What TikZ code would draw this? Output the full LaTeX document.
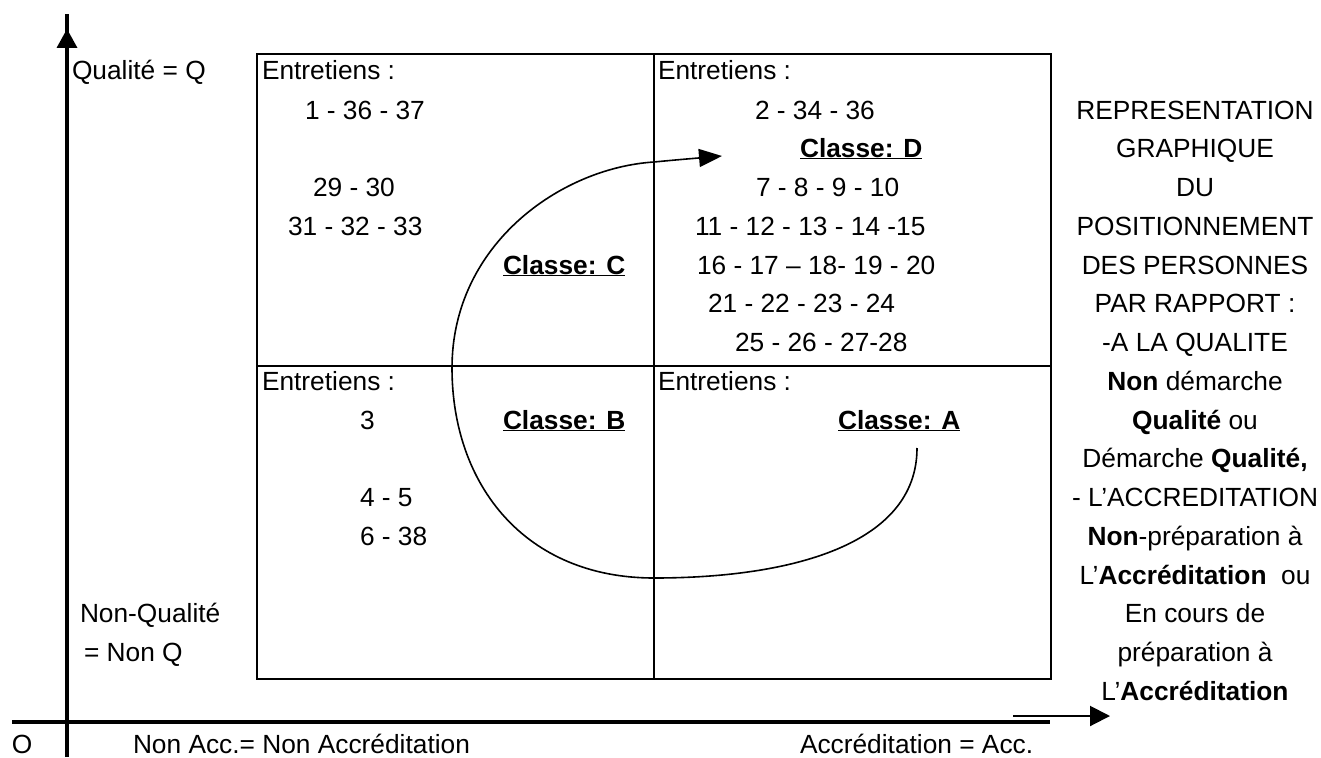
\documentclass[tikz,border=0pt]{standalone}
\usepackage{fontspec}
\setmainfont{Liberation Sans}
\usetikzlibrary{arrows.meta}
\begin{document}
\begin{tikzpicture}[x=1pt,y=-1pt,
  txt/.style={inner sep=0pt, outer sep=0pt, anchor=base west, font=\fontsize{26.3}{38.75}\selectfont},
  ctxt/.style={txt, anchor=base},
  cls/.style={txt, font=\fontsize{26.3}{38.75}\selectfont\bfseries},
  gridline/.style={line width=2pt},
  axisline/.style={line width=4.5pt},
  thinarrow/.style={line width=2pt, -{Triangle[length=20pt,width=20pt]}},
  curvearrow/.style={line width=1.6pt, -{Triangle[length=23pt,width=18pt]}}
  ]
\useasboundingbox (0,0) rectangle (1321,757);
% rows baselines: 80 + 38.75 k
% axes
\coordinate (ytop) at (67,14);
\coordinate (ybot) at (67,757);
\coordinate (xleft) at (12,722);
\coordinate (xright) at (1050,722);
\draw[axisline] (ybot) -- (ytop);
\fill (67,29) -- (56.5,48) -- (77.5,48) -- cycle;
\draw[axisline] (xleft) -- (xright);
\coordinate (ta1) at (1013,716);
\coordinate (ta2) at (1110,716);
\draw[thinarrow] (ta1) -- (ta2);
% box
\coordinate (bl) at (257,679);
\coordinate (tr) at (1051,54);
\draw[gridline] (bl) rectangle (tr);
\coordinate (vt) at (654,54);
\coordinate (vb) at (654,679);
\coordinate (hl) at (257,366);
\coordinate (hr) at (1051,366);
\draw[gridline] (vt) -- (vb);
\draw[gridline] (hl) -- (hr);
% left labels
\node[txt] (q) at (72,80) {Qualité = Q};
\node[txt] (nq1) at (80,622) {Non-Qualité};
\node[txt] (nq2) at (84,661) {= Non Q};
\node[txt] (o) at (12,753) {O};
\node[txt] (nacc) at (133,753) {Non Acc.= Non Accréditation};
\node[txt] (acc) at (800,753) {Accréditation = Acc.};
% top-left quadrant
\node[txt] (e1) at (262,80) {Entretiens :};
\node[txt] (c1) at (305,119) {1 - 36 - 37};
\node[txt] (c2) at (313,196) {29 - 30};
\node[txt] (c3) at (288,235) {31 - 32 - 33};
\node[cls] (cC) at (503,274) {\underline{Classe: C}};
% top-right quadrant
\node[txt] (e2) at (658,80) {Entretiens :};
\node[txt] (d1) at (755,119) {2 - 34 - 36};
\node[cls] (cD) at (800,157) {\underline{Classe: D}};
\node[txt] (d2) at (756,196) {7 - 8 - 9 - 10};
\node[txt] (d3) at (695,235) {11 - 12 - 13 - 14 -15};
\node[txt] (d4) at (697,274) {16 - 17 – 18- 19 - 20};
\node[txt] (d5) at (708,312) {21 - 22 - 23 - 24};
\node[txt] (d6) at (735,351) {25 - 26 - 27-28};
% bottom-left quadrant
\node[txt] (e3) at (262,390) {Entretiens :};
\node[txt] (b1) at (360,429) {3};
\node[cls] (cB) at (503,429) {\underline{Classe: B}};
\node[txt] (b2) at (360,506) {4 - 5};
\node[txt] (b3) at (360,545) {6 - 38};
% bottom-right quadrant
\node[txt] (e4) at (658,390) {Entretiens :};
\node[cls] (cA) at (838,429) {\underline{Classe: A}};
% right column
\node[ctxt] (r1) at (1195,119) {REPRESENTATION};
\node[ctxt] (r2) at (1195,157) {GRAPHIQUE};
\node[ctxt] (r3) at (1195,196) {DU};
\node[ctxt] (r4) at (1195,235) {POSITIONNEMENT};
\node[ctxt] (r5) at (1195,274) {DES PERSONNES};
\node[ctxt] (r6) at (1195,312) {PAR RAPPORT :};
\node[ctxt] (r7) at (1195,351) {-A LA QUALITE};
\node[ctxt] (r8) at (1195,390) {\textbf{Non} démarche};
\node[ctxt] (r9) at (1195,429) {\textbf{Qualité} ou};
\node[ctxt] (r10) at (1195,467) {Démarche \textbf{Qualité,}};
\node[ctxt] (r11) at (1195,506) {- L’ACCREDITATION};
\node[ctxt] (r12) at (1195,545) {\textbf{Non}-préparation à};
\node[ctxt] (r13) at (1195,584) {L’\textbf{Accréditation}\ \ ou};
\node[ctxt] (r14) at (1195,622) {En cours de};
\node[ctxt] (r15) at (1195,661) {préparation à};
\node[ctxt] (r16) at (1195,700) {L’\textbf{Accréditation}};
% spiral curve from Classe A to Classe D
\coordinate (cs) at (917,448);
\coordinate (cb) at (654,578);
\coordinate (cl) at (452,368);
\coordinate (cm) at (654,162);
\coordinate (ce) at (722,156);
\draw[curvearrow] (cs) .. controls (917,545) and (790,578) .. (cb)
  .. controls (525,578) and (452,485) .. (cl)
  .. controls (452,245) and (560,168) .. (cm)
  .. controls (675,160) .. (ce);
\end{tikzpicture}
\end{document}
